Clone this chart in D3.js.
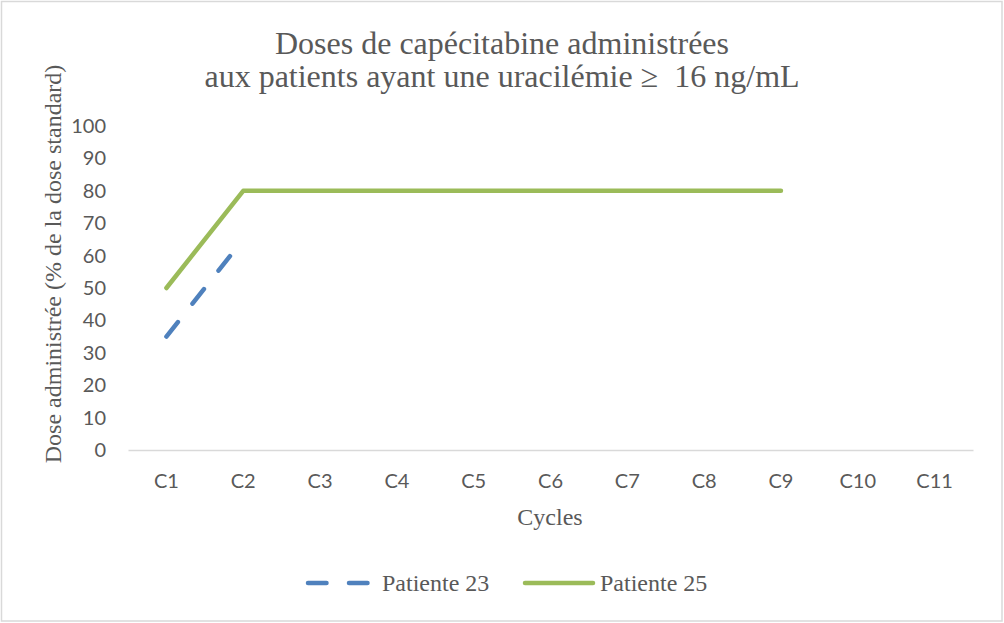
<!DOCTYPE html>
<html><head><meta charset="utf-8">
<script src="https://cdn.jsdelivr.net/npm/d3@7"></script>
<style>body{margin:0;background:#fff}svg{display:block}</style>
</head><body><svg id="c" width="1004" height="623"></svg>
<script>
const categories = ["C1","C2","C3","C4","C5","C6","C7","C8","C9","C10","C11"];
const patiente23 = [35, 65, null, null, null, null, null, null, null, null, null];
const patiente25 = [50, 80, 80, 80, 80, 80, 80, 80, 80, null, null];
const yTicks = [0,10,20,30,40,50,60,70,80,90,100];
const seriesNames = ["Patiente 23", "Patiente 25"];

const svg = d3.select("#c");
const serif = "'Liberation Serif','Times New Roman',serif";
const sans = "Lato, 'Open Sans', sans-serif";
const txt = "#595959";

svg.append("rect").attr("x",1.5).attr("y",1.5).attr("width",1000.5).attr("height",619.5)
  .attr("fill","#fff").attr("stroke","#d9d9d9").attr("stroke-width",1.5);

const x = d3.scaleBand().domain(categories).range([128, 973]);
const y = d3.scaleLinear().domain([0,100]).range([450, 126]);

// title
const t = svg.append("text").attr("text-anchor","middle").attr("fill",txt)
  .style("font-family",serif).style("font-size","32px").style("white-space","pre");
t.append("tspan").attr("x",502).attr("y",54).text("Doses de capécitabine administrées");
t.append("tspan").attr("x",502).attr("y",87).text("aux patients ayant une uracilémie ≥  16 ng/mL");

// y axis
const ya = svg.append("g").attr("transform","translate(128,0)")
  .call(d3.axisLeft(y).tickValues(yTicks).tickSize(0).tickPadding(22));
ya.select(".domain").remove();
ya.selectAll("text").attr("fill",txt).style("font-family",sans).style("font-size","20px");

// x axis
const xa = svg.append("g").attr("transform","translate(0,450)")
  .call(d3.axisBottom(x).tickSize(0).tickPadding(24));
xa.select(".domain").attr("stroke","#d9d9d9").attr("stroke-width",1.5);
xa.selectAll("text").attr("fill",txt).style("font-family",sans).style("font-size","20px");

// axis titles
svg.append("text").attr("transform","translate(61,264) rotate(-90)").attr("text-anchor","middle")
  .attr("fill",txt).style("font-family",serif).style("font-size","24px")
  .text("Dose administrée (% de la dose standard)");
svg.append("text").attr("x",550).attr("y",525).attr("text-anchor","middle")
  .attr("fill",txt).style("font-family",serif).style("font-size","24px").text("Cycles");

const line = d3.line().defined(d => d != null)
  .x((d,i) => x(categories[i]) + x.bandwidth()/2).y(d => y(d));

svg.append("path").datum(patiente25).attr("d", line).attr("fill","none")
  .attr("stroke","#9bbb59").attr("stroke-width",4.5).attr("stroke-linecap","round").attr("stroke-linejoin","round");
svg.append("path").datum(patiente23).attr("d", line).attr("fill","none")
  .attr("stroke","#4f81bd").attr("stroke-width",4.5).attr("stroke-linecap","round")
  .attr("stroke-dasharray","18.5,23.5");

// legend
const lg = svg.append("g");
lg.append("line").attr("x1",308).attr("x2",369).attr("y1",583).attr("y2",583)
  .attr("stroke","#4f81bd").attr("stroke-width",4.5).attr("stroke-linecap","round").attr("stroke-dasharray","18.5,22.5");
lg.append("text").attr("x",382).attr("y",591).attr("fill",txt).style("font-family",serif).style("font-size","24px").text(seriesNames[0]);
lg.append("line").attr("x1",525).attr("x2",593).attr("y1",583).attr("y2",583)
  .attr("stroke","#9bbb59").attr("stroke-width",4.5).attr("stroke-linecap","round");
lg.append("text").attr("x",600).attr("y",591).attr("fill",txt).style("font-family",serif).style("font-size","24px").text(seriesNames[1]);
</script></body></html>
